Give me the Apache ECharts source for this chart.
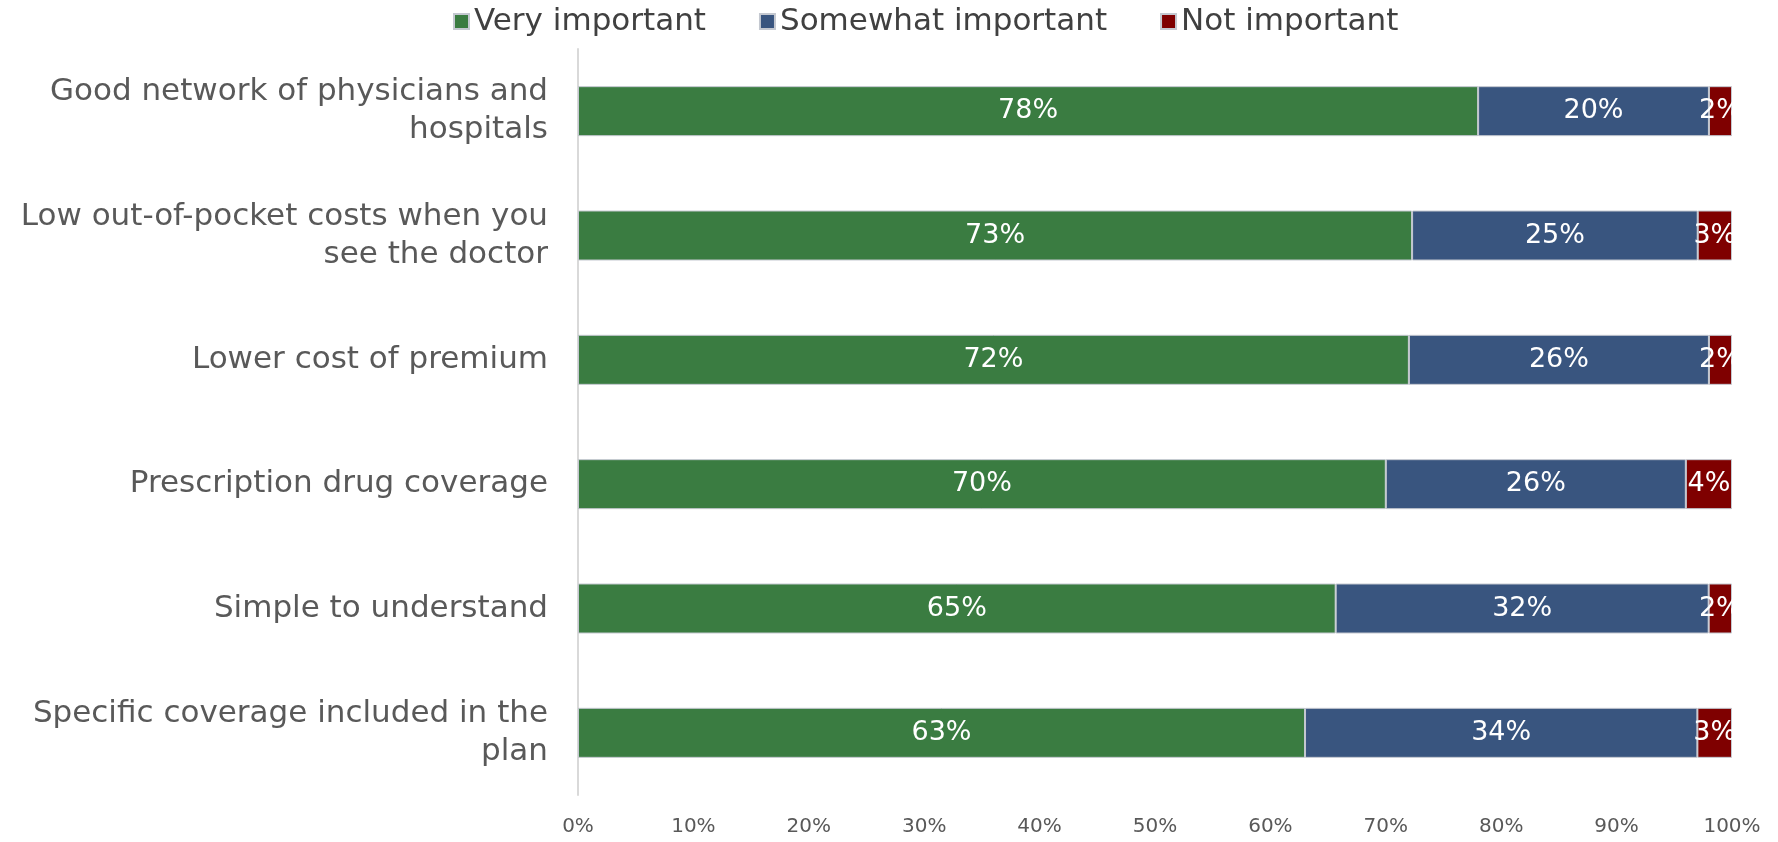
<!DOCTYPE html>
<html>
<head>
<meta charset="utf-8">
<script src="https://cdn.jsdelivr.net/npm/echarts@6/dist/echarts.min.js"></script>
<style>
  html, body { margin: 0; padding: 0; background: #ffffff; }
  #chart { width: 1778px; height: 842px; }
</style>
</head>
<body>
<div id="chart"></div>
<script>
// Survey: importance of health plan features
const categories = [
  'Good network of physicians and\nhospitals',
  'Low out-of-pocket costs when you\nsee the doctor',
  'Lower cost of premium',
  'Prescription drug coverage',
  'Simple to understand',
  'Specific coverage included in the\nplan'
];
const veryImportant     = [78, 73, 72, 70, 65, 63];
const somewhatImportant = [20, 25, 26, 26, 32, 34];
const notImportant      = [2, 3, 2, 4, 2, 3];
const xTickLabels = ['0%', '10%', '20%', '30%', '40%', '50%', '60%', '70%', '80%', '90%', '100%'];

const FONT = '"DejaVu Sans", sans-serif';

// 100% stacked: each row is scaled so its parts fill the full width
const rowTotals = categories.map((_, i) => veryImportant[i] + somewhatImportant[i] + notImportant[i]);
const share = arr => arr.map((v, i) => ({ value: v / rowTotals[i] * 100, raw: v }));

function makeSeries(name, arr, color) {
  return {
    name: name,
    type: 'bar',
    stack: 'total',
    barWidth: 50,
    data: share(arr),
    itemStyle: { color: color, borderColor: '#c4c8d0', borderWidth: 1 },
    label: {
      show: true,
      position: 'inside',
      color: '#ffffff',
      fontFamily: FONT,
      fontSize: 27,
      formatter: p => p.data.raw + '%'
    },
    emphasis: { disabled: true }
  };
}

const chart = echarts.init(document.getElementById('chart'));
chart.setOption({
  animation: false,
  backgroundColor: '#ffffff',
  legend: {
    top: 1,
    left: 448,
    icon: 'rect',
    itemWidth: 15,
    itemHeight: 15,
    itemGap: 53,
    textStyle: { fontFamily: FONT, fontSize: 31, color: '#404040' },
    data: ['Very important', 'Somewhat important', 'Not important']
  },
  grid: { left: 578, right: 46, top: 49, bottom: 47, containLabel: false },
  xAxis: {
    type: 'value',
    min: 0,
    max: 100,
    interval: 10,
    axisLine: { show: false },
    axisTick: { show: false },
    splitLine: { show: false },
    axisLabel: {
      margin: 22,
      color: '#595959',
      fontFamily: FONT,
      fontSize: 20,
      formatter: v => xTickLabels[Math.round(v / 10)]
    }
  },
  yAxis: {
    type: 'category',
    inverse: true,
    data: categories,
    axisLine: { show: true, lineStyle: { color: '#d9d9d9', width: 2 } },
    axisTick: { show: false },
    axisLabel: {
      margin: 30,
      color: '#595959',
      fontFamily: FONT,
      fontSize: 31,
      lineHeight: 38,
      align: 'right'
    }
  },
  series: [
    makeSeries('Very important', veryImportant, '#3a7c41'),
    makeSeries('Somewhat important', somewhatImportant, '#39557f'),
    makeSeries('Not important', notImportant, '#7f0000')
  ]
});
</script>
</body>
</html>
